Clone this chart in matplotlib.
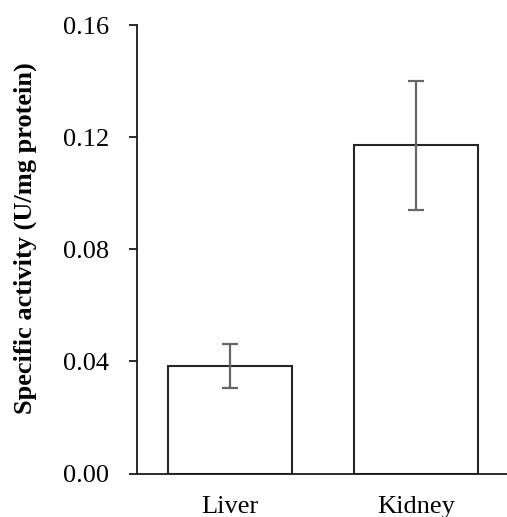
import matplotlib.pyplot as plt
import numpy as np

plt.rcParams['font.family'] = ['Liberation Serif', 'DejaVu Serif']

tissues = ['Liver', 'Kidney']
activity = [0.0384, 0.1171]
errors = [0.0078, 0.0230]
yticks = [0.00, 0.04, 0.08, 0.12, 0.16]

fig = plt.figure(figsize=(5.07, 5.17), dpi=100)
ax = fig.add_axes([0.2696, 0.0841, 0.7304, 0.8675])

x = np.arange(len(tissues))
ax.bar(x, activity, width=0.668, color='white', edgecolor='#262626', linewidth=1.5,
       zorder=2)
ax.errorbar(x, activity, yerr=errors, fmt='none', ecolor='#666666', elinewidth=1.6,
            capsize=6, capthick=1.6, zorder=3)

ax.set_xlim(-0.5, 1.49)
ax.set_ylim(0, 0.16)
ax.set_yticks(yticks)
ax.set_yticklabels(['%.2f' % v for v in yticks])
ax.set_xticks(x)
ax.set_xticklabels(tissues)

for side in ['top', 'right']:
    ax.spines[side].set_visible(False)
for side in ['left', 'bottom']:
    ax.spines[side].set_linewidth(1.3)
    ax.spines[side].set_color('#1a1a1a')

ax.tick_params(axis='y', direction='out', length=6, width=1.3, pad=14, labelsize=19,
               color='#1a1a1a')
ax.tick_params(axis='x', length=0, pad=16, labelsize=19)

ax.set_ylabel('Specific activity (U/mg protein)', fontsize=19, fontweight='bold')
ax.yaxis.set_label_coords(-0.268, 0.524)

plt.savefig('out.png', dpi=100)
